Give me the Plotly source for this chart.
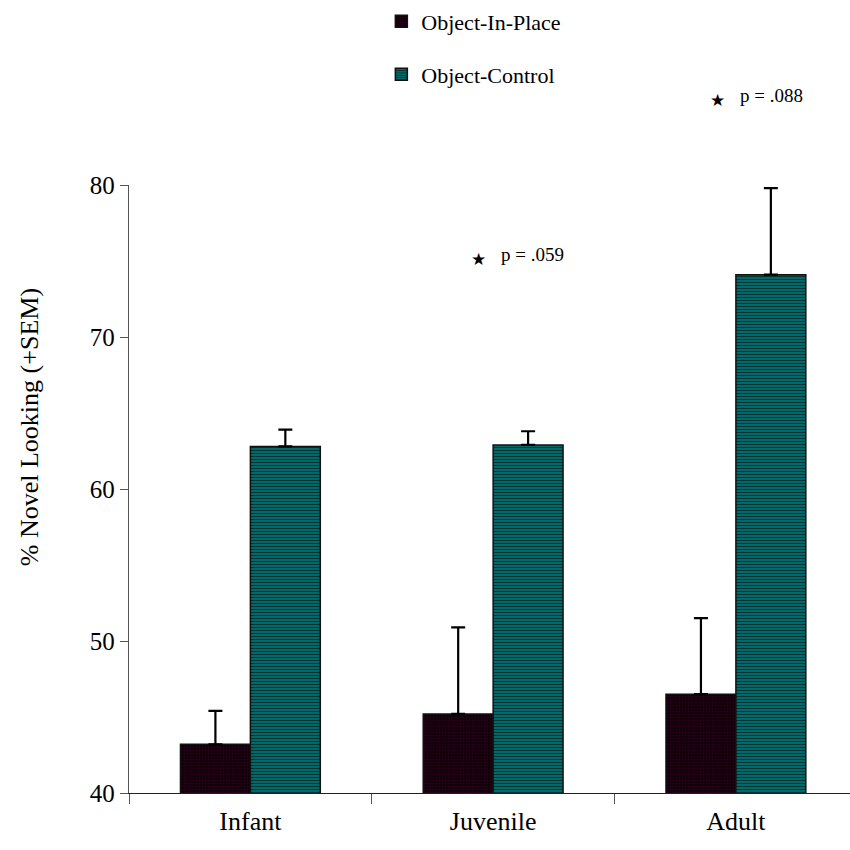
import plotly.graph_objects as go

categories = ["Infant", "Juvenile", "Adult"]
in_place = [43.2, 45.2, 46.5]
in_place_err = [2.2, 5.7, 5.0]
control = [62.8, 62.9, 74.1]
control_err = [1.1, 0.9, 5.7]

sig_labels = ["p = .059", "p = .088"]
sig_x = [0.94, 1.925]
sig_y = [75.1, 85.6]

Y_MIN, Y_MAX = 40, 80
FONT = "Liberation Serif, Times New Roman, serif"

fig = go.Figure()
fig.add_trace(go.Bar(
    name="Object-In-Place", x=categories, y=in_place,
    marker=dict(color="#120008", line=dict(color="#111111", width=1.5),
                pattern=dict(shape=".", fgcolor="#4a0040", bgcolor="#120008",
                             size=3, solidity=0.25, fillmode="overlay")),
    error_y=dict(type="data", array=in_place_err, symmetric=False,
                 arrayminus=[0, 0, 0], color="#000000", thickness=2.2, width=7),
    legend="legend",
))
fig.add_trace(go.Bar(
    name="Object-Control", x=categories, y=control,
    marker=dict(color="#056868", line=dict(color="#111111", width=1.5),
                pattern=dict(shape="-", fgcolor="#000000", bgcolor="#056868",
                             size=3, solidity=0.35, fillmode="overlay")),
    error_y=dict(type="data", array=control_err, symmetric=False,
                 arrayminus=[0, 0, 0], color="#000000", thickness=2.2, width=7),
    legend="legend2",
))

for sx, sy, lab in zip(sig_x, sig_y, sig_labels):
    py = (sy - Y_MIN) / (Y_MAX - Y_MIN)
    fig.add_annotation(x=sx, y=py, xref="x", yref="paper", text="★", showarrow=False,
                       yanchor="middle", xanchor="center",
                       font=dict(size=17, color="black", family="DejaVu Sans"))
    fig.add_annotation(x=sx + 0.085, y=py + 0.008, xref="x", yref="paper", text=lab,
                       showarrow=False, xanchor="left", yanchor="middle",
                       font=dict(size=19, color="black", family=FONT))

# y-axis title as rotated text
fig.add_annotation(x=-0.137, y=0.602, xref="paper", yref="paper",
                   text="% Novel Looking (+SEM)", textangle=-90, showarrow=False,
                   xanchor="center", yanchor="middle",
                   font=dict(size=26, color="black", family=FONT))

fig.update_layout(
    width=850, height=850,
    margin=dict(l=129, r=0, t=182, b=57),
    plot_bgcolor="white", paper_bgcolor="white",
    barmode="group", bargap=0.424, bargroupgap=0,
    font=dict(family=FONT, color="black"),
    legend=dict(x=0.35, y=1.269, xanchor="left", yanchor="middle",
                font=dict(size=22, family=FONT), bgcolor="rgba(0,0,0,0)"),
    legend2=dict(x=0.35, y=1.182, xanchor="left", yanchor="middle",
                 font=dict(size=22, family=FONT), bgcolor="rgba(0,0,0,0)"),
    showlegend=True,
)
fig.update_xaxes(
    type="category", range=[-0.5, 2.47], showline=True, linecolor="#222222",
    linewidth=1.3, ticks="outside", tickson="boundaries", ticklen=10,
    tickcolor="#555555", tickfont=dict(size=26, family=FONT),
    ticklabelstandoff=5, showgrid=False, zeroline=False,
)
fig.update_yaxes(
    range=[Y_MIN, Y_MAX], tickvals=[40, 50, 60, 70, 80], showline=True,
    linecolor="#555555", linewidth=1.3, ticks="outside", ticklen=8,
    tickcolor="#555555", tickfont=dict(size=25, family=FONT),
    showgrid=False, zeroline=False,
)

fig.write_html("out.html")
